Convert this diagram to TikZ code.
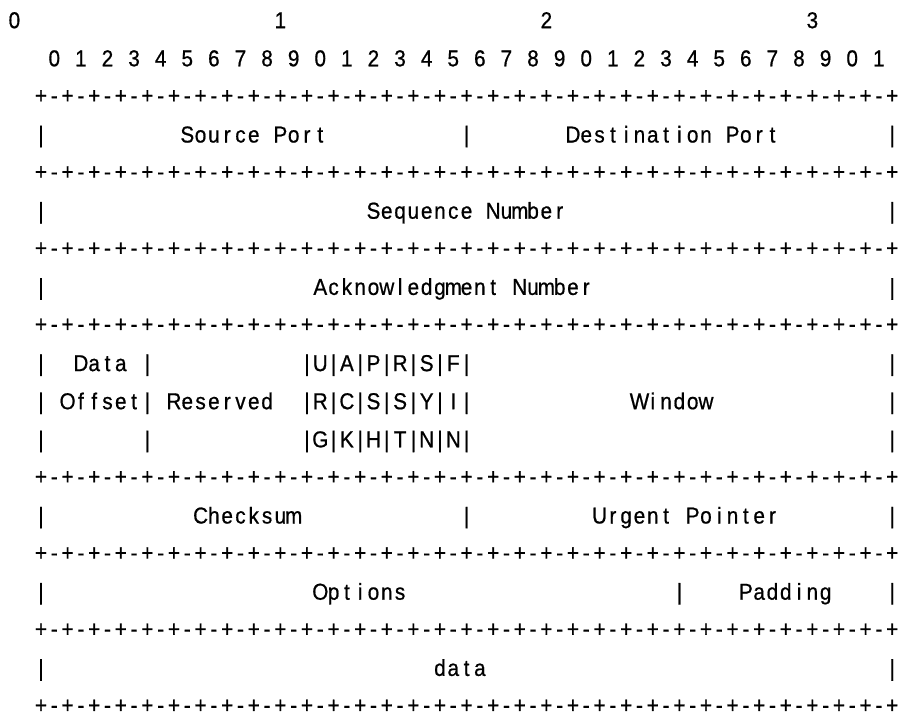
\documentclass[tikz,border=0pt]{standalone}
\usepackage{fontspec}
\setmainfont[FakeStretch=0.9,FakeBold=0.7]{Liberation Sans}
\newlength\cw
\setlength\cw{13.3pt}
\ExplSyntaxOn
\NewDocumentCommand\cells{m}{\exp_args:Ne\str_map_inline:nn{#1}{\makebox[\cw][c]{##1}}}
\ExplSyntaxOff
\newcommand\frag[4]{\node[cellrow] (#1) at ({13.3*#2-5.55},{20+38.1*#3+8.2}) {\cells{#4}};}
\newcommand\bordertext{+-+-+-+-+-+-+-+-+-+-+-+-+-+-+-+-+-+-+-+-+-+-+-+-+-+-+-+-+-+-+-+-+}
\newcommand\border[2]{\node[cellrow] (#1) at ({13.3*3-5.55},{20+38.1*#2+7.2}) {\cells{\bordertext}};}
\tikzset{cellrow/.style={anchor=base west, inner sep=0pt, outer sep=0pt, text=black, font=\fontsize{23}{27}\selectfont}}
\begin{document}
\begin{tikzpicture}[x=1pt,y=-1pt]
\useasboundingbox[fill=white] (0,0) rectangle (899,717);
% bit scale
\frag{t0}{1}{0}{0}
\frag{t1}{21}{0}{1}
\frag{t2}{41}{0}{2}
\frag{t3}{61}{0}{3}
\frag{bits}{4}{1}{0 1 2 3 4 5 6 7 8 9 0 1 2 3 4 5 6 7 8 9 0 1 2 3 4 5 6 7 8 9 0 1}
% borders
\border{b2}{2}
\border{b4}{4}
\border{b6}{6}
\border{b8}{8}
\border{b12}{12}
\border{b14}{14}
\border{b16}{16}
\border{b18}{18}
% row 3
\frag{l3}{3}{3}{|}
\frag{sport}{14}{3}{Source Port}
\frag{m3}{35}{3}{|}
\frag{dport}{43}{3}{Destination Port}
\frag{r3}{67}{3}{|}
% row 5
\frag{l5}{3}{5}{|}
\frag{seq}{28}{5}{Sequence Number}
\frag{r5}{67}{5}{|}
% row 7
\frag{l7}{3}{7}{|}
\frag{ack}{24}{7}{Acknowledgment Number}
\frag{r7}{67}{7}{|}
% rows 9-11
\frag{l9}{3}{9}{|}
\frag{data1}{6}{9}{Data |}
\frag{flags1}{23}{9}{|U|A|P|R|S|F|}
\frag{r9}{67}{9}{|}
\frag{off}{3}{10}{| Offset| Reserved}
\frag{flags2}{23}{10}{|R|C|S|S|Y|I|}
\frag{win}{48}{10}{Window}
\frag{r10}{67}{10}{|}
\frag{l11}{3}{11}{|}
\frag{m11}{11}{11}{|}
\frag{flags3}{23}{11}{|G|K|H|T|N|N|}
\frag{r11}{67}{11}{|}
% row 13
\frag{l13}{3}{13}{|}
\frag{cks}{15}{13}{Checksum}
\frag{m13}{35}{13}{|}
\frag{urg}{45}{13}{Urgent Pointer}
\frag{r13}{67}{13}{|}
% row 15
\frag{l15}{3}{15}{|}
\frag{opt}{24}{15}{Options}
\frag{m15}{51}{15}{|}
\frag{pad}{56}{15}{Padding}
\frag{r15}{67}{15}{|}
% row 17
\frag{l17}{3}{17}{|}
\frag{dat}{33}{17}{data}
\frag{r17}{67}{17}{|}
\end{tikzpicture}
\end{document}
